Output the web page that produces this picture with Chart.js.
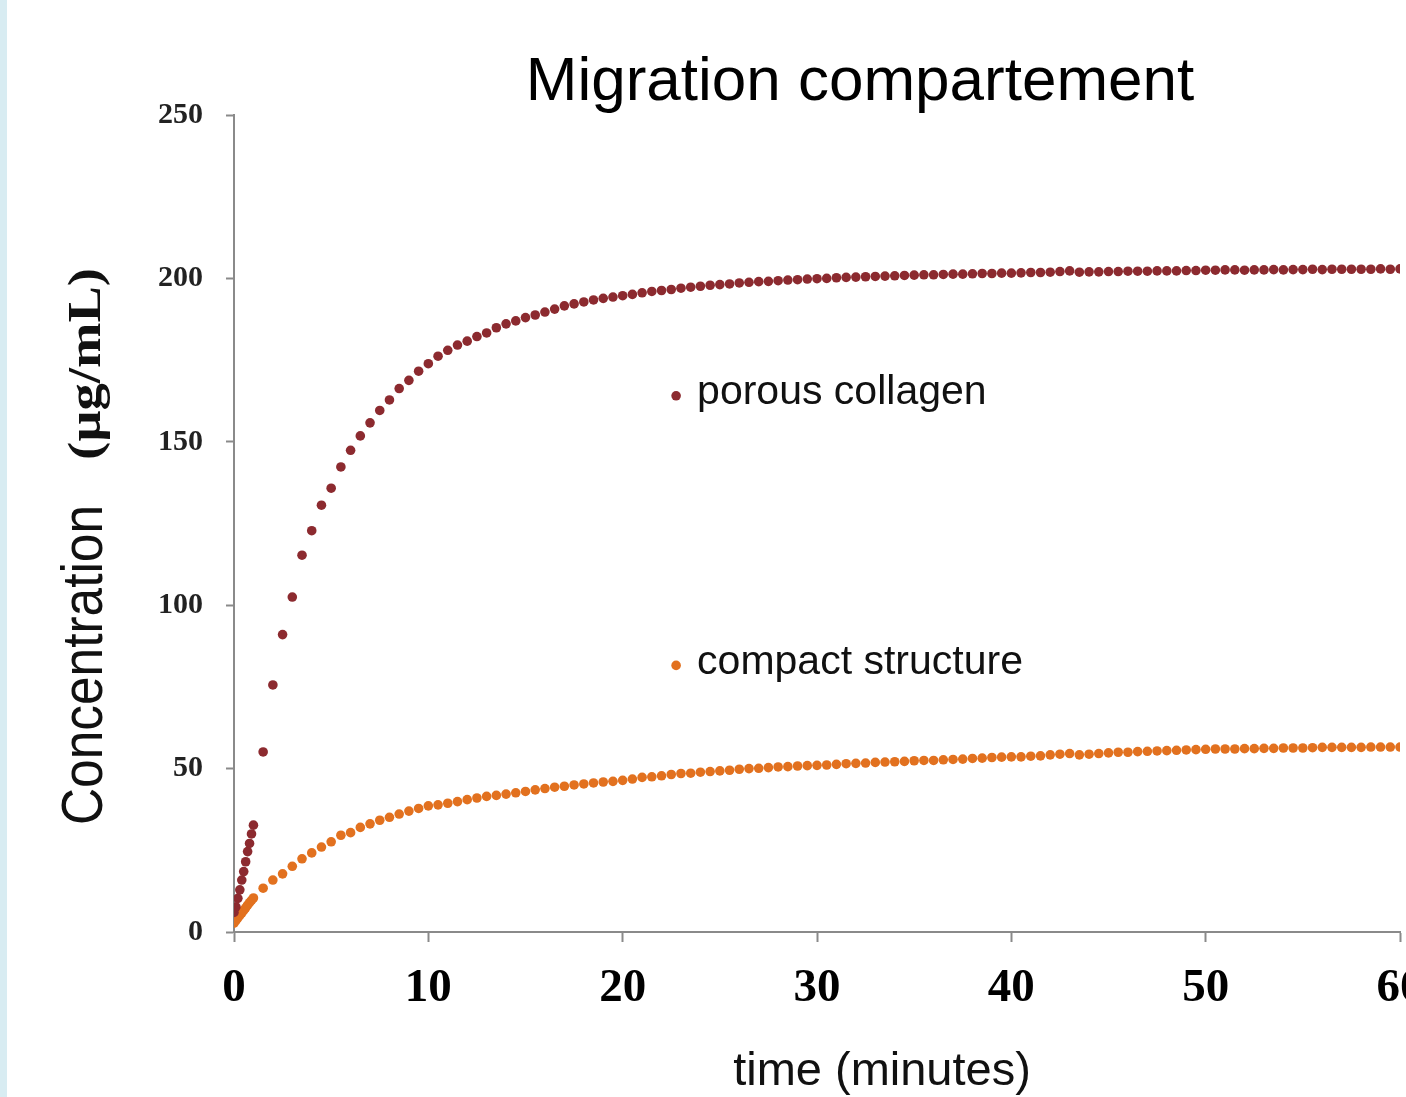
<!DOCTYPE html>
<html>
<head>
<meta charset="utf-8">
<script src="https://cdn.jsdelivr.net/npm/chart.js@4/dist/chart.umd.min.js"></script>
<style>
  body { margin: 0; overflow: hidden; background: #fff; width: 1406px; height: 1097px; position: relative; }
  #strip { position: absolute; left: 0; top: 0; width: 7px; height: 1097px; background: #d8ecf2; }
  #chart { position: absolute; left: 0; top: 0; }
</style>
</head>
<body>
<div id="strip"></div>
<canvas id="chart" width="1443" height="1097"></canvas>
<script>
// time points (minutes)
var times = [0, 0.1, 0.2, 0.3, 0.4, 0.5, 0.6, 0.7, 0.8, 0.9, 1.0,
  1.5, 2, 2.5, 3, 3.5, 4, 4.5, 5, 5.5, 6, 6.5, 7, 7.5, 8, 8.5, 9, 9.5, 10,
  10.5, 11, 11.5, 12, 12.5, 13, 13.5, 14, 14.5, 15, 15.5, 16, 16.5, 17, 17.5, 18, 18.5, 19, 19.5, 20,
  20.5, 21, 21.5, 22, 22.5, 23, 23.5, 24, 24.5, 25, 25.5, 26, 26.5, 27, 27.5, 28, 28.5, 29, 29.5, 30,
  30.5, 31, 31.5, 32, 32.5, 33, 33.5, 34, 34.5, 35, 35.5, 36, 36.5, 37, 37.5, 38, 38.5, 39, 39.5, 40,
  40.5, 41, 41.5, 42, 42.5, 43, 43.5, 44, 44.5, 45, 45.5, 46, 46.5, 47, 47.5, 48, 48.5, 49, 49.5, 50,
  50.5, 51, 51.5, 52, 52.5, 53, 53.5, 54, 54.5, 55, 55.5, 56, 56.5, 57, 57.5, 58, 58.5, 59, 59.5, 60];

var porous = [6, 7.7, 10.3, 12.9, 15.9, 18.5, 21.5, 24.6, 27.1, 30, 32.7,
  55.1, 75.6, 91, 102.5, 115.3, 122.8, 130.6, 135.8, 142.3, 147.4, 151.8, 155.8, 159.6, 162.8, 166.3, 168.8, 171.6, 173.9,
  176.2, 178, 179.6, 180.8, 182.2, 183.3, 184.9, 186.1, 187, 188, 188.8, 189.7, 190.6, 191.6, 192.2, 192.8, 193.4, 193.9, 194.3, 194.7,
  195.1, 195.6, 196, 196.3, 196.6, 197, 197.3, 197.6, 197.9, 198.1, 198.3, 198.6, 198.8, 199, 199.1, 199.3, 199.5, 199.6, 199.8, 199.9,
  200, 200.2, 200.3, 200.4, 200.5, 200.6, 200.7, 200.8, 200.9, 201, 201.1, 201.1, 201.2, 201.3, 201.3, 201.4, 201.5, 201.5, 201.6, 201.6,
  201.7, 201.8, 201.8, 201.9, 202.1, 202.3, 201.9, 202, 202, 202.1, 202.1, 202.2, 202.2, 202.2, 202.3, 202.3, 202.3, 202.4, 202.4, 202.5,
  202.5, 202.6, 202.6, 202.5, 202.6, 202.6, 202.7, 202.6, 202.7, 202.7, 202.8, 202.7, 202.8, 202.8, 202.8, 202.8, 202.8, 202.9, 202.8, 202.9];

var compact = [2.7, 3.5, 4.3, 5.1, 5.8, 6.6, 7.4, 8.2, 9, 9.7, 10.4,
  13.4, 15.9, 17.8, 20.1, 22.4, 24.2, 26, 27.6, 29.6, 30.4, 32, 33.1, 34.2, 35.1, 36.1, 37, 37.8, 38.6,
  38.9, 39.4, 39.9, 40.5, 41, 41.5, 41.8, 42.2, 42.6, 43, 43.5, 43.9, 44.3, 44.6, 45, 45.3, 45.6, 45.9, 46.1, 46.4,
  46.8, 47.3, 47.5, 47.8, 48.2, 48.5, 48.6, 48.9, 49.1, 49.3, 49.5, 49.8, 50, 50.1, 50.3, 50.5, 50.6, 50.8, 50.9, 51,
  51.1, 51.3, 51.5, 51.6, 51.7, 51.9, 52, 52.1, 52.2, 52.4, 52.5, 52.5, 52.7, 52.8, 52.9, 53.1, 53.2, 53.4, 53.5, 53.6,
  53.6, 53.8, 53.9, 54.2, 54.4, 54.6, 54.2, 54.4, 54.6, 54.8, 55, 55, 55.2, 55.3, 55.4, 55.5, 55.6, 55.7, 55.8, 55.9,
  56, 56, 56, 56.1, 56.1, 56.2, 56.2, 56.3, 56.3, 56.3, 56.4, 56.5, 56.5, 56.5, 56.5, 56.5, 56.6, 56.6, 56.6, 56.6];

var seriesNames = ['porous collagen', 'compact structure'];
var seriesColors = ['#8c2a2f', '#e2711f'];
// where the in-plot labels sit, in data units (time, concentration)
var labelAnchors = [[22.75, 165], [22.75, 82.5]];

var titleText = 'Migration compartement';
var xTitle = 'time (minutes)';
var yTitleA = 'Concentration';
var yTitleB = '(\u00b5g/mL)';

function toPoints(vals){
  var pts = [];
  for(var i = 0; i < times.length; i++){
    pts.push({x: times[i], y: vals[i]});
  }
  return pts;
}

var textPlugin = {
  id: 'texts',
  afterDraw: function(chart){
    var ctx = chart.ctx;
    var xs = chart.scales.x, ys = chart.scales.y;
    ctx.save();
    ctx.fillStyle = '#000';
    ctx.textBaseline = 'alphabetic';

    // title
    ctx.font = '62px "Liberation Sans", Arial, sans-serif';
    ctx.textAlign = 'center';
    ctx.fillText(titleText, 860, 100);

    // x axis title
    ctx.font = '47px "Liberation Sans", Arial, sans-serif';
    ctx.fillStyle = '#111';
    ctx.fillText(xTitle, 882, 1085);

    // y axis title, two fonts
    ctx.save();
    ctx.translate(102, 665);
    ctx.rotate(-Math.PI / 2);
    ctx.font = '57px "Liberation Sans", Arial, sans-serif';
    var w = ctx.measureText(yTitleA).width;
    ctx.scale(320 / w, 1);
    ctx.textAlign = 'center';
    ctx.fillText(yTitleA, 0, 0);
    ctx.restore();

    ctx.save();
    ctx.translate(100, 364);
    ctx.rotate(-Math.PI / 2);
    ctx.font = 'bold 47px "Liberation Serif", "Times New Roman", serif';
    w = ctx.measureText(yTitleB).width;
    ctx.scale(192 / w, 1);
    ctx.textAlign = 'center';
    ctx.fillText(yTitleB, 0, 0);
    ctx.restore();

    // in-plot labels
    ctx.font = '41px "Liberation Sans", Arial, sans-serif';
    ctx.textAlign = 'left';
    ctx.textBaseline = 'middle';
    for(var i = 0; i < seriesNames.length; i++){
      var px = xs.getPixelForValue(labelAnchors[i][0]);
      var py = ys.getPixelForValue(labelAnchors[i][1]);
      ctx.fillStyle = seriesColors[i];
      ctx.beginPath();
      ctx.arc(px, py + 3, 4.8, 0, Math.PI * 2);
      ctx.fill();
      ctx.fillStyle = '#111';
      ctx.fillText(seriesNames[i], px + 21, py);
    }
    ctx.restore();
  }
};

var config = {
  type: 'scatter',
  data: {
    datasets: [
      {
        label: seriesNames[0],
        data: toPoints(porous),
        backgroundColor: seriesColors[0],
        borderWidth: 0,
        pointRadius: 4.8
      },
      {
        label: seriesNames[1],
        data: toPoints(compact),
        backgroundColor: seriesColors[1],
        borderWidth: 0,
        pointRadius: 4.8
      }
    ]
  },
  options: {
    responsive: false,
    animation: false,
    layout: {padding: {top: 115, right: 43, left: 0, bottom: 0}},
    plugins: {
      legend: {display: false},
      title: {display: false},
      tooltip: {enabled: false}
    },
    scales: {
      x: {
        type: 'linear',
        min: 0, max: 60,
        border: {color: '#8a8a8a', width: 2},
        grid: {drawOnChartArea: false, tickLength: 10, color: '#8a8a8a', tickWidth: 2},
        ticks: {
          stepSize: 10,
          color: '#000',
          padding: 19,
          maxRotation: 0,
          font: {family: '"Liberation Serif", "Times New Roman", serif', size: 47, weight: 'bold'}
        },
        afterFit: function(scale){ scale.height = 165; }
      },
      y: {
        min: 0, max: 250,
        border: {color: '#8a8a8a', width: 2},
        grid: {drawOnChartArea: false, tickLength: 8, color: '#8a8a8a', tickWidth: 2},
        ticks: {
          stepSize: 50,
          color: '#222',
          padding: 23,
          font: {family: '"Liberation Serif", "Times New Roman", serif', size: 30, weight: 'bold'}
        },
        afterFit: function(scale){ scale.width = 234; }
      }
    }
  },
  plugins: [textPlugin]
};

var ctx = document.getElementById('chart').getContext('2d');
var chart = new Chart(ctx, config);
</script>
</body>
</html>
